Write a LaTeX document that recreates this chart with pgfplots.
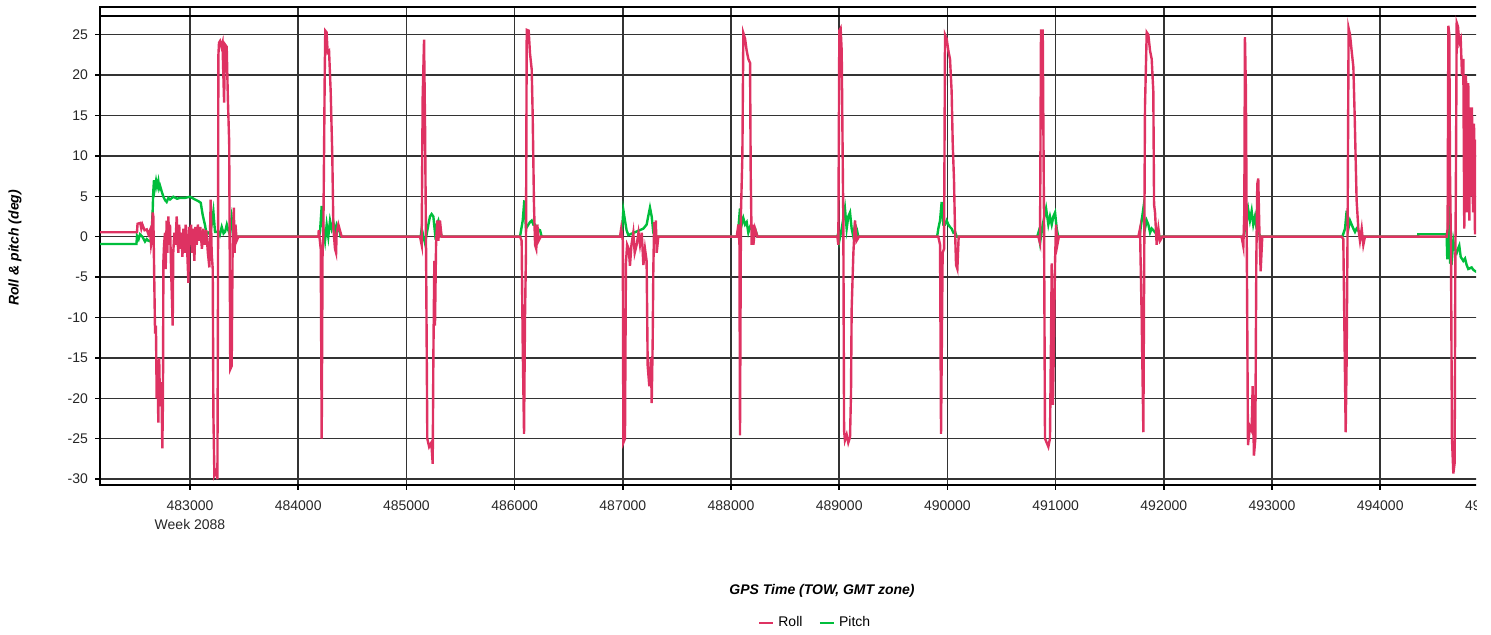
\documentclass[border=0pt]{standalone}
\usepackage{pgfplots}
\pgfplotsset{compat=1.18}
\usepackage{fontspec}
\setmainfont{Liberation Sans}
\definecolor{rollc}{RGB}{222,50,98}
\definecolor{pitchc}{RGB}{0,190,60}
\begin{document}
\begin{tikzpicture}
\begin{scope}
\clip (-50pt,-75pt) rectangle (688pt,242.5pt);
\begin{axis}[
  at={(0,0)}, anchor=south west,
  scale only axis, width=699.6pt, height=239pt,
  xmin=482168, xmax=495100, ymin=-30.73, ymax=28.43,
  scaled x ticks=false,
  xtick={483000,484000,485000,486000,487000,488000,489000,490000,491000,492000,493000,494000,495000},
  xticklabels={{483000\\[1pt]Week 2088},484000,485000,486000,487000,488000,489000,490000,491000,492000,493000,494000,495000},
  ytick={-30,-25,-20,-15,-10,-5,0,5,10,15,20,25},
  yticklabels={-30,-25,-20,-15,-10,-5,0,5,10,15,20,25},
  extra y ticks={27.3}, extra y tick labels={},
  extra y tick style={grid style={black, line width=0.9pt}, major tick length=0pt},
  xtick pos=left, ytick pos=left,
  tick align=outside, major tick length=2.5pt,
  tick style={black, line width=0.75pt},
  grid=major, grid style={black!80, line width=0.75pt},
  axis line style={black, line width=1pt},
  ticklabel style={font=\fontsize{7}{8.4}\selectfont, text=black!85},
  xticklabel style={align=center, yshift=-2pt},
  xlabel={GPS Time (TOW, GMT zone)},
  xlabel style={at={(axis description cs:0.516,-0.2218)}, anchor=center, font=\fontsize{7}{8.4}\selectfont\bfseries\itshape},
  ylabel={Roll \& pitch (deg)},
  ylabel style={at={(axis description cs:-0.0607,0.496)}, anchor=center, font=\fontsize{7}{8.4}\selectfont\bfseries\itshape},
  legend style={at={(axis description cs:0.5117,-0.2887)}, anchor=center, draw=none, fill=none,
    font=\fontsize{7}{8.4}\selectfont, legend columns=2,
    /tikz/every even column/.append style={column sep=6pt}},
  legend image code/.code={\draw[#1, line width=1.3pt] (0pt,0pt) -- (7pt,0pt);},
]
\addplot[pitchc, line width=1.2pt, forget plot] coordinates {
(482168,-0.9) (482505,-0.9) (482510,0.1) (482525,-0.3) (482538,0.3) (482560,0.0) (482584,-0.6) (482600,-0.3) (482615,-0.5) (482640,-0.6) (482646,0.5) (482655,3.3) (482660,5.5) (482667,7.0) (482675,6.0) (482686,6.9) (482695,6.2) (482707,6.9) (482715,6.0) (482723,6.3) (482738,5.6) (482754,4.95) (482770,4.5) (482784,4.3) (482800,4.8) (482815,4.6) (482846,4.95) (482880,4.7) (482908,4.8) (482954,4.8) (483000,4.95) (483046,4.6) (483077,4.4) (483099,4.2) (483117,2.7) (483139,1.4) (483154,0.2) (483170,0.5) (483185,0.4) (483200,1.5) (483216,3.1) (483231,0.6) (483262,0.6) (483275,0.2) (483293,1.2) (483310,0.4) (483324,0.6) (483340,1.5) (483354,0.8) (483370,0.2) (483385,2.3) (483401,0.6) (483416,0.2) (483431,0)
(484190,0) (484201,0.5) (484217,3.8) (484232,1) (484248,-0.5) (484263,1.5) (484278,0) (484294,2) (484309,1) (484325,1.8) (484340,0.5) (484355,1.5) (484371,1) (484386,0.5) (484392,0)
(485132,0) (485141,1) (485172,-0.8) (485203,1.5) (485218,2.5) (485233,2.8) (485249,2.5) (485264,0.5) (485280,1.5) (485295,2) (485310,1) (485326,0)
(486050,0) (486056,0.5) (486075,2) (486090,4.5) (486105,1) (486127,1.5) (486142,1.8) (486158,2) (486173,1.5) (486189,1.5) (486204,1) (486235,0.8) (486250,0)
(486989,0) (487005,3.3) (487020,2) (487035,0.8) (487051,0.2) (487190,1) (487220,1.5) (487251,3.6) (487267,2.5) (487282,0.5) (487297,0)
(488060,0) (488068,1) (488083,3.5) (488099,1.5) (488114,2.3) (488130,1.5) (488145,1.8) (488160,0.5) (488176,1.2) (488200,0.8) (488222,1) (488244,0)
(488983,0) (488992,0.5) (489001,-0.5) (489023,1) (489053,3.5) (489069,1) (489084,2.5) (489100,3) (489115,1) (489131,0) (489146,1.5) (489161,1) (489177,0)
(489905,0) (489916,1) (489932,2) (489947,4.3) (489963,1.5) (489978,1.5) (489993,2) (490009,1.5) (490024,1.2) (490039,1) (490055,0.5) (490070,0.6) (490086,0)
(490830,0) (490841,0.5) (490856,-0.8) (490881,1.5) (490912,3.5) (490933,1.5) (490948,2.5) (490964,1.5) (490979,2.5) (490995,3) (491010,1) (491025,0)
(491770,0) (491780,0.5) (491811,3.5) (491826,1) (491842,2) (491857,1.5) (491873,0.5) (491888,1) (491903,0.8) (491934,0.3) (491965,0)
(492740,0) (492750,1) (492766,1.8) (492781,3.3) (492796,2) (492812,3.2) (492827,1.5) (492843,2.5) (492858,1) (492873,0.5) (492895,0)
(493650,0) (493675,1) (493690,3.2) (493706,1) (493721,2) (493736,1.5) (493752,1) (493767,0.6) (493782,1) (493813,0.5) (493829,0)
(494350,0) (494352,0.3) (494614,0.3) (494620,-2.8) (494630,2.6) (494639,3.2) (494645,-3.2) (494660,-3.3) (494676,-0.5) (494688,-1.5) (494707,-2) (494719,-1.5) (494731,-1.1) (494744,-2.5) (494768,-3) (494784,-2.7) (494799,-3.5) (494814,-4) (494845,-3.8) (494861,-4.1) (494882,-4.3) (494900,-4.4)
};
\addplot[rollc, line width=1.2pt] coordinates {
(482168,0.55) (482510,0.55) (482515,1.6) (482540,1.7) (482550,1.0) (482560,1.5) (482580,0.8) (482600,0.9) (482615,0.3) (482630,0.8) (482640,-1.0) (482646,-0.5) (482655,3.0) (482661,2.5) (482667,-3) (482677,-12) (482685,-11) (482692,-20) (482700,-16) (482707,-23) (482715,-15) (482723,-21) (482735,-18) (482744,-26.2) (482750,-20) (482754,-3) (482760,-1) (482769,0.5) (482775,-4) (482784,2.0) (482790,-2) (482800,2.5) (482808,-1) (482815,1.5) (482825,-4) (482840,-11) (482845,-2) (482855,0.5) (482865,-1) (482877,2.5) (482885,-0.5) (482892,-2) (482900,1.5) (482910,-1.5) (482920,0.5) (482930,-2.5) (482938,1.0) (482950,-2) (482960,1.5) (482972,-1) (482985,-5.7) (482992,1.2) (483000,-1) (483010,1.5) (483020,-2) (483030,1.0) (483040,-3) (483050,1.2) (483062,-1) (483072,1.5) (483085,-0.5) (483095,1.2) (483110,-1.5) (483123,1.0) (483135,-1) (483150,0.8) (483165,-2) (483179,-3.8) (483191,4.6) (483200,-2) (483210,-4) (483216,-22) (483225,-29.5) (483240,-29) (483253,-30) (483258,-10) (483262,22.4) (483268,24) (483277,24.2) (483290,23.5) (483300,24) (483315,16.6) (483323,23.8) (483339,23.5) (483350,17) (483362,11.7) (483372,-16.4) (483385,-16) (483394,-1) (483405,3.6) (483412,-2) (483420,1.5) (483431,-0.5) (483447,0)
(484186,0) (484190,0.8) (484208,-1.5) (484217,-25) (484225,-2) (484232,0) (484245,20) (484250,25.5) (484262,25.3) (484272,22.8) (484285,23) (484300,18) (484315,10) (484325,1) (484340,-1.5) (484350,-2) (484355,0.5) (484371,1.5) (484385,0.8) (484402,0)
(485126,0) (485141,-1) (485150,17.1) (485163,24.4) (485172,14) (485181,-0.5) (485193,-25) (485210,-26) (485230,-25.5) (485243,-28.1) (485249,-15) (485258,-3) (485264,-11) (485274,-1) (485285,2) (485295,-0.5) (485310,2) (485325,0)
(486050,0) (486065,-0.5) (486075,-13.6) (486087,-24.4) (486096,-10) (486105,-2) (486112,25.6) (486130,25.5) (486142,22.7) (486158,20.7) (486167,15) (486179,4) (486189,-1) (486200,-1.5) (486210,1.5) (486222,-0.5) (486241,0)
(486974,0) (486985,1) (487000,-0.5) (487005,-25.5) (487020,-25) (487029,-3.2) (487040,-1) (487055,-1.5) (487066,-3.6) (487080,-1) (487097,0.5) (487110,-2) (487128,-1) (487145,0.5) (487159,-1) (487175,0.5) (487190,-3.5) (487205,-1.5) (487220,-3) (487230,-16) (487245,-18.5) (487260,-15) (487267,-20.6) (487276,-13) (487282,-4) (487290,1.8) (487297,0.5) (487305,2) (487313,-2) (487328,0)
(488053,0) (488068,1.5) (488078,-1) (488083,-24.6) (488092,3) (488105,10) (488114,25.2) (488130,24.5) (488145,23) (488160,22) (488176,21.5) (488182,8) (488191,-1) (488200,1.5) (488207,-1) (488222,1) (488244,0)
(488983,0) (488992,-1) (489001,25.5) (489013,25.8) (489023,23) (489032,10) (489038,2) (489045,-24) (489053,-25.2) (489069,-24.5) (489084,-25.5) (489100,-24.8) (489109,-19.4) (489115,-9) (489124,-5) (489131,-2) (489146,2) (489161,-0.5) (489183,0)
(489916,0) (489932,-1) (489941,-24.4) (489956,-2) (489969,-1.5) (489978,25) (489993,24.5) (490009,23) (490024,22) (490039,18) (490049,11.6) (490061,7) (490070,1) (490080,-3.5) (490092,-4) (490104,0)
(490841,0) (490856,-0.8) (490865,25.5) (490881,25.5) (490893,2) (490902,-25) (490918,-25.5) (490933,-26) (490948,-25) (490958,-12) (490964,-3.3) (490975,-20.8) (490985,-13) (490995,-3) (491004,1.5) (491016,-1) (491030,0)
(491765,0) (491780,1) (491796,-10.3) (491811,-24.2) (491826,16) (491842,25.3) (491857,25) (491873,23) (491888,22) (491903,18) (491910,4) (491919,3) (491934,-1) (491950,1) (491965,-0.5) (491987,0)
(492719,0) (492735,-1.2) (492744,3) (492750,24.7) (492759,18) (492766,1) (492778,-25.8) (492796,-23.5) (492812,-24) (492821,-18.5) (492833,-27.1) (492846,-25) (492855,-3) (492864,6.5) (492873,7.2) (492883,1) (492895,-4.3) (492910,0)
(493644,0) (493659,-0.3) (493668,-10) (493681,-24.2) (493690,-15) (493699,2) (493708,25.8) (493721,25) (493736,23) (493752,21) (493764,15) (493776,8) (493782,4.5) (493798,1) (493813,-0.5) (493829,1) (493844,-1) (493859,0)
(494614,0) (494623,1) (494630,26.1) (494639,25) (494645,8) (494654,-1) (494663,-24.9) (494676,-29.3) (494688,-28) (494694,-5) (494701,10) (494707,26.5) (494719,26) (494731,24) (494744,24.5) (494756,20) (494768,22) (494777,1) (494793,20) (494802,3) (494814,19) (494824,2) (494830,16) (494839,5) (494848,16) (494858,3) (494867,14) (494876,0.3) (494882,12) (494900,5)
};
\addlegendentry{Roll}
\addlegendimage{pitchc}
\addlegendentry{Pitch}
\end{axis}
\end{scope}
\pgfresetboundingbox
\path[use as bounding box] (-50pt,-75pt) rectangle (695.5pt,242.5pt);
\end{tikzpicture}
\end{document}
